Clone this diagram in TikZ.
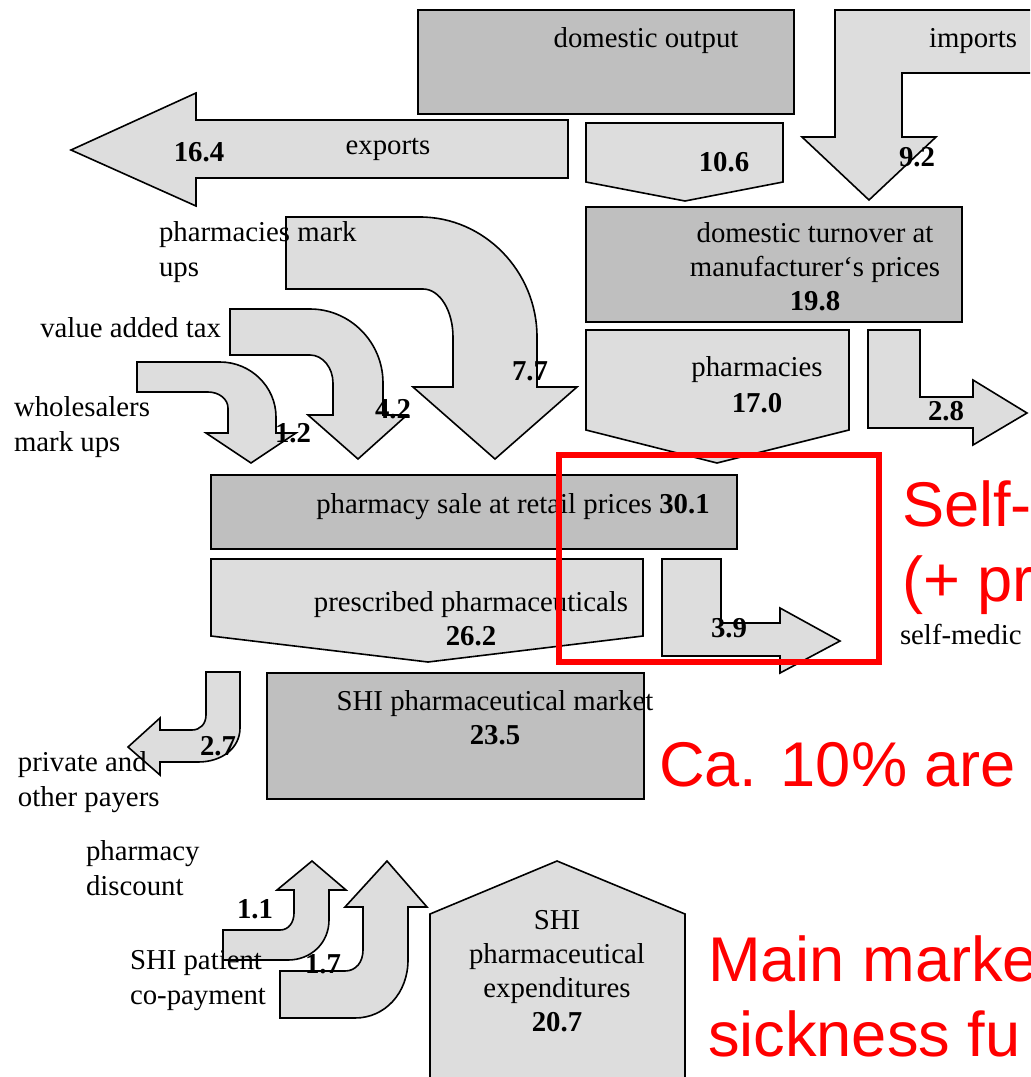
\documentclass[tikz,border=0pt]{standalone}
\usepackage{fontspec}
\setmainfont{Liberation Serif}
\newfontfamily\remarkfont{Liberation Sans}
\definecolor{boxgray}{gray}{0.75}
\definecolor{flowgray}{gray}{0.865}
\tikzstyle{stockbox} = [draw,fill=boxgray,line width=0.8pt]
\tikzstyle{flowshape} = [draw,fill=flowgray,line width=0.8pt]
\tikzstyle{txt} = [inner sep=0pt,outer sep=0pt,font=\fontsize{14.4}{17}\selectfont,align=center]
\tikzstyle{sidetxt} = [inner sep=0pt,outer sep=0pt,font=\fontsize{14.4}{17.5}\selectfont,align=left,anchor=north west]
\tikzstyle{amount} = [inner sep=0pt,outer sep=0pt,font=\fontsize{14.4}{17}\selectfont\bfseries]
\tikzstyle{remark} = [inner sep=0pt,outer sep=0pt,text=red,align=left,font=\remarkfont\fontsize{31.6}{37.5}\selectfont]

\begin{document}
\begin{tikzpicture}[x=0.5pt,y=-0.5pt]
		\useasboundingbox (0,0) rectangle (1030,1077);
		\clip (0,0) rectangle (1030,1077);

		% producers
		\draw[stockbox] (418,10) rectangle (794,114);
		\draw[flowshape] (835,10) -- (1040,10) -- (1040,73) -- (902,73) -- (902,137) -- (936,137) -- (869,200) -- (802,137) -- (835,137) -- cycle;
		\draw[flowshape] (568,120) -- (196,120) -- (196,93) -- (71,150) -- (196,206) -- (196,178) -- (568,178) -- cycle;
		\draw[flowshape] (586,123) -- (783,123) -- (783,182) -- (685,201) -- (586,182) -- cycle;
		\draw[stockbox] (586,207) rectangle (962,322);
		\draw[flowshape] (586,330) -- (849,330) -- (849,430) -- (717,463) -- (586,430) -- cycle;
		\draw[flowshape] (868,330) -- (920,330) -- (920,397) -- (973,397) -- (973,380) -- (1027,413) -- (973,445) -- (973,428) -- (868,428) -- cycle;

		% mark ups and tax
		\draw[flowshape] (286,217) -- (420,217) .. controls (484,217) and (537,271) .. (537,337) -- (537,387) -- (577,387) -- (495,459) -- (413,387) -- (453,387) -- (453,337) .. controls (453,311) and (440,289) .. (423,289) -- (286,289) -- cycle;
		\draw[flowshape] (230,309) -- (310,309) .. controls (350,309) and (383,342) .. (383,383) -- (383,415) -- (407,415) -- (358,459) -- (308,415) -- (333,415) -- (333,383) .. controls (333,368) and (323,355) .. (310,355) -- (230,355) -- cycle;
		\draw[flowshape] (137,362) -- (220,362) .. controls (251,362) and (276,387) .. (276,417) -- (276,433) -- (296,433) -- (251,463) -- (206,433) -- (228,433) -- (228,408) .. controls (228,399) and (219,392) .. (208,392) -- (137,392) -- cycle;

		% retail level
		\draw[stockbox] (211,475) rectangle (737,549);
		\draw[flowshape] (211,559) -- (643,559) -- (643,636) -- (428,662) -- (211,636) -- cycle;
		\draw[flowshape] (662,559) -- (721,559) -- (721,623) -- (780,623) -- (780,608) -- (840,641) -- (780,673) -- (780,656) -- (662,656) -- cycle;
		\draw[stockbox] (267,673) rectangle (644,799);
		\draw[flowshape] (206,672) -- (240,672) -- (240,728) .. controls (240,748) and (222,762) .. (198,762) -- (160,762) -- (160,775) -- (128,747) -- (160,718) -- (160,730) -- (192,730) .. controls (200,730) and (206,724) .. (206,715) -- cycle;

		% payers
		\draw[flowshape] (312,861) -- (346,890) -- (329,890) -- (329,920) .. controls (329,943) and (311,960) .. (288,960) -- (223,960) -- (223,930) -- (280,930) .. controls (289,930) and (294,922) .. (294,913) -- (294,890) -- (277,890) -- cycle;
		\draw[flowshape] (387,861) -- (427,907) -- (408,907) -- (408,960) .. controls (408,993) and (385,1018) .. (355,1018) -- (280,1018) -- (280,971) -- (345,971) .. controls (356,971) and (363,962) .. (363,950) -- (363,907) -- (345,907) -- cycle;
		\draw[flowshape] (430,1090) -- (430,914) -- (557,861) -- (685,914) -- (685,1090) -- cycle;

		\node[txt] (domout) at (646,41) {domestic output};
		\node[txt] (imports) at (973,41) {imports};
		\node[txt] (exports) at (388,149) {exports};
		\node[txt] (turnover) at (815,267) {domestic turnover at\\ manufacturer`s prices\\ \textbf{19.8}};
		\node[txt,font=\fontsize{14.4}{18}\selectfont] (pharm) at (757,385) {pharmacies\\ \textbf{17.0}};
		\node[txt] (retail) at (513,507) {pharmacy sale at retail prices \textbf{30.1}};
		\node[txt] (prescr) at (471,619) {prescribed pharmaceuticals\\ \textbf{26.2}};
		\node[txt] (shimarket) at (495,718) {SHI pharmaceutical market\\ \textbf{23.5}};
		\node[txt] (shiexp) at (557,971) {SHI\\ pharmaceutical\\ expenditures\\ \textbf{20.7}};

		\node[sidetxt] (pmarkup) at (159,222) {pharmacies mark\\ ups};
		\node[txt,anchor=base east] (vat) at (221,337) {value added tax};
		\node[sidetxt] (wmarkup) at (14,397) {wholesalers\\ mark ups};
		\node[sidetxt] (private) at (18,752) {private and\\ other payers};
		\node[sidetxt] (discount) at (86,841) {pharmacy\\ discount};
		\node[sidetxt] (copay) at (130,950) {SHI patient\\ co-payment};
		\node[txt,anchor=base west] (selfmed) at (900,644) {self-medic};

		\node[amount] (v164) at (199,152) {16.4};
		\node[amount] (v106) at (724,162) {10.6};
		\node[amount] (v92) at (917,157) {9.2};
		\node[amount] (v77) at (530,371) {7.7};
		\node[amount] (v42) at (393,409) {4.2};
		\node[amount] (v12) at (293,433) {1.2};
		\node[amount] (v28) at (946,411) {2.8};
		\node[amount] (v39) at (729,628) {3.9};
		\node[amount] (v27) at (218,746) {2.7};
		\node[amount] (v11) at (255,909) {1.1};
		\node[amount] (v17) at (323,964) {1.7};

		% annotations
		\draw[red,line width=2.6pt] (559,455) rectangle (879,662);
		\node[remark,anchor=north west] (selfnote) at (902,481) {Self-\\ (+ pr};
		\node[remark,anchor=base west] (tenpct) at (659,786) {Ca. 10\% are};
		\node[remark,anchor=north west] (mainnote) at (708,936) {Main marke\\ sickness fu};
\end{tikzpicture}
\end{document}
